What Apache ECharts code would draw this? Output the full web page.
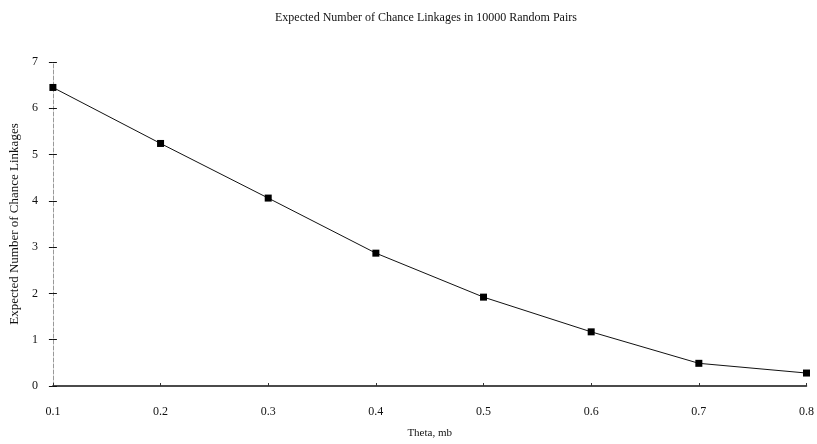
<!DOCTYPE html>
<html>
<head>
<meta charset="utf-8">
<script src="https://cdn.jsdelivr.net/npm/echarts@6/dist/echarts.min.js"></script>
<style>
html,body{margin:0;padding:0;background:#fff;}
#c{width:817px;height:444px;}
</style>
</head>
<body>
<div id="c"></div>
<script>
const titleText = 'Expected Number of Chance Linkages in 10000 Random Pairs';
const xName = 'Theta, mb';
const yName = 'Expected Number of Chance Linkages';
const thetaCategories = ['0.1','0.2','0.3','0.4','0.5','0.6','0.7','0.8'];
const expectedLinkages = [6.45, 5.24, 4.06, 2.87, 1.92, 1.17, 0.49, 0.28];

const font = 'Liberation Serif';
const chart = echarts.init(document.getElementById('c'));
chart.setOption({
  backgroundColor: '#fff',
  animation: false,
  title: {
    text: titleText,
    left: 270,
    top: 7,
    textStyle: {fontFamily: font, fontSize: 12, fontWeight: 'normal', color: '#111'}
  },
  grid: {left: 50, right: 5, top: 62, bottom: 58, containLabel: false},
  xAxis: {
    type: 'category',
    data: thetaCategories,
    boundaryGap: false,
    name: xName,
    nameLocation: 'middle',
    nameGap: 42,
    nameTextStyle: {fontFamily: font, fontSize: 11, color: '#111'},
    axisLine: {lineStyle: {color: '#111', width: 1.5}},
    axisTick: {show: true, inside: true, length: 3, lineStyle: {color: '#333'}},
    axisLabel: {fontFamily: font, fontSize: 12, color: '#111', margin: 20}
  },
  yAxis: [{
    type: 'value',
    min: 0, max: 7, interval: 1,
    name: yName,
    nameLocation: 'middle',
    nameGap: 31,
    nameTextStyle: {fontFamily: font, fontSize: 13, color: '#111'},
    axisLine: {show: true, lineStyle: {color: '#999', type: 'dashed', width: 1}},
    axisTick: {show: true, length: 4, lineStyle: {color: '#111'}},
    axisLabel: {fontFamily: font, fontSize: 12, color: '#111', margin: 15},
    splitLine: {show: false}
  }, {
    type: 'value',
    position: 'left',
    min: 0, max: 7, interval: 1,
    axisLine: {show: false},
    axisTick: {show: true, inside: true, length: 4, lineStyle: {color: '#111'}},
    axisLabel: {show: false},
    splitLine: {show: false}
  }],
  series: [{
    type: 'line',
    data: expectedLinkages,
    symbol: 'rect',
    symbolSize: 7,
    itemStyle: {color: '#000'},
    lineStyle: {color: '#111', width: 1}
  }]
});
</script>
</body>
</html>
